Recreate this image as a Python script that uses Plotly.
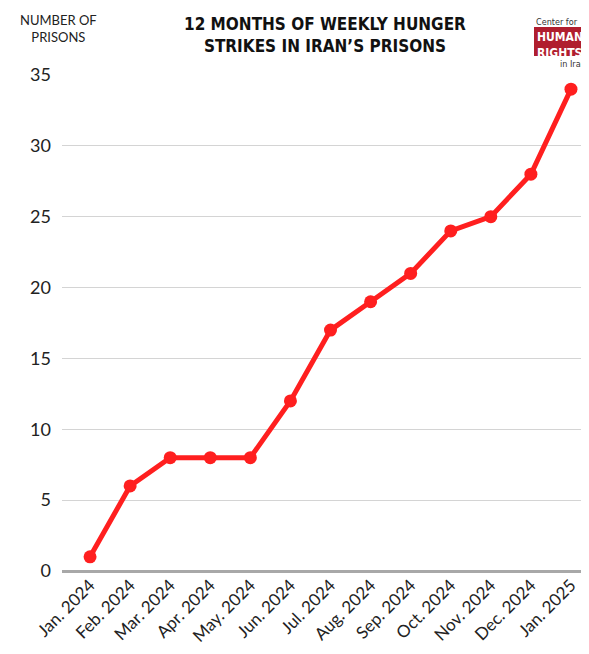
import plotly.graph_objects as go

months = ["Jan. 2024", "Feb. 2024", "Mar. 2024", "Apr. 2024", "May. 2024", "Jun. 2024",
          "Jul. 2024", "Aug. 2024", "Sep. 2024", "Oct. 2024", "Nov. 2024", "Dec. 2024", "Jan. 2025"]
prisons = [1, 6, 8, 8, 8, 12, 17, 19, 21, 24, 25, 28, 34]
y_ticks = [0, 5, 10, 15, 20, 25, 30, 35]

RED = "#ff1f1f"
OFF = 8  # page body offset
W, H = 589 - OFF, 654 - OFF
L, R, T, B = 62 - OFF, 0, 75 - OFF, 83
PW, PH = W - L - R, H - T - B


def px(x):
    return (x - OFF - L) / PW


def py(y):
    return (H - B - (y - OFF)) / PH


fig = go.Figure()
fig.add_trace(go.Scatter(
    x=list(range(len(months))), y=prisons, mode="lines+markers",
    line=dict(color=RED, width=5),
    marker=dict(color=RED, size=13),
    cliponaxis=False, showlegend=False,
))

COND = "DejaVu Sans Condensed"

fig.update_layout(
    width=W, height=H,
    margin=dict(l=L, r=R, t=T, b=B),
    paper_bgcolor="white", plot_bgcolor="white",
    font=dict(family="Lato", color="#222"),
    xaxis=dict(
        range=[-0.7, 12.45], tickmode="array",
        tickvals=list(range(len(months))), ticktext=months,
        tickangle=-45, tickfont=dict(size=17, family="Lato", color="#222"),
        showgrid=False, zeroline=False, showline=False, ticks="",
        automargin=False,
    ),
    yaxis=dict(
        range=[0, 35], tickmode="array", tickvals=y_ticks,
        tickfont=dict(size=18, family="Lato", color="#222"),
        gridcolor="#d4d4d4", gridwidth=1.2,
        zeroline=True, zerolinecolor="#a8a8a8", zerolinewidth=2.5,
        showline=False, ticks="", ticklabelstandoff=10,
        automargin=False,
    ),
    annotations=[
        dict(text="12 MONTHS OF WEEKLY HUNGER<br>STRIKES IN IRAN’S PRISONS",
             x=px(325), y=py(12), xref="paper", yref="paper", showarrow=False,
             font=dict(family=COND, size=17, color="#111", weight="bold"),
             xanchor="center", yanchor="top"),
        dict(text="NUMBER OF<br>PRISONS", x=px(58), y=py(10), xref="paper", yref="paper",
             showarrow=False, font=dict(family="Lato", size=13, color="#222"),
             xanchor="center", yanchor="top"),
        dict(text="Center for", x=px(534), y=py(15), xref="paper", yref="paper",
             showarrow=False, font=dict(family=COND, size=9, color="#333"),
             xanchor="left", yanchor="top"),
        dict(text="HUMAN<br>RIGHTS", x=px(535), y=py(28), xref="paper", yref="paper",
             showarrow=False,
             font=dict(family=COND, size=12, color="white", weight="bold"),
             xanchor="left", yanchor="top", align="left"),
        dict(text="in Iran", x=px(588), y=py(57), xref="paper", yref="paper",
             showarrow=False, font=dict(family=COND, size=9, color="#333"),
             xanchor="right", yanchor="top"),
    ],
    shapes=[
        dict(type="rect", xref="paper", yref="paper",
             x0=px(534), x1=px(589), y0=py(27), y1=py(56),
             fillcolor="#b01e2e", line=dict(width=0), layer="below"),
    ],
)

fig.write_html("out.html")
